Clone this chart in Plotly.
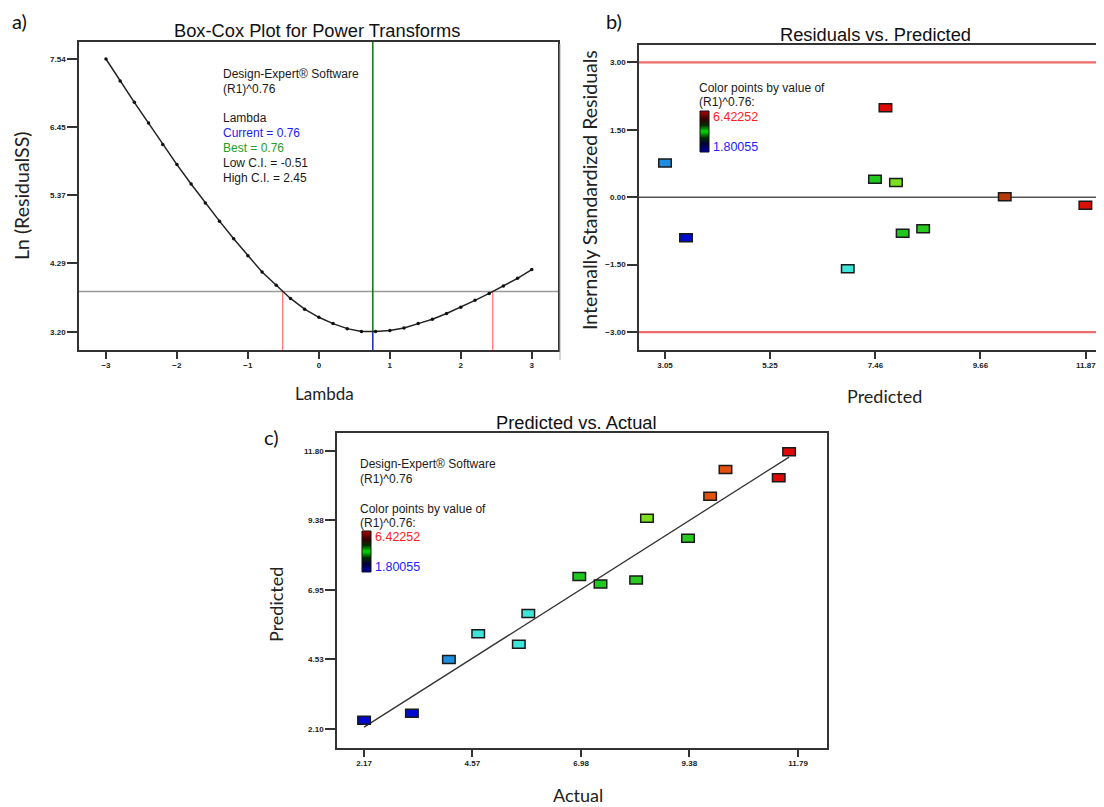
import plotly.graph_objects as go
from plotly.colors import sample_colorscale

W, H = 1104, 807
OFF = 8  # default page body margin
FW, FH = W - OFF, H - OFF

# ---------------- data ----------------
# a) Box-Cox
lam = [-3.0, -2.8, -2.6, -2.4, -2.2, -2.0, -1.8, -1.6, -1.4, -1.2, -1.0, -0.8, -0.6, -0.4, -0.2,
       0.0, 0.2, 0.4, 0.6, 0.8, 1.0, 1.2, 1.4, 1.6, 1.8, 2.0, 2.2, 2.4, 2.6, 2.8, 3.0]
ln_rss = [7.54, 7.19, 6.85, 6.52, 6.18, 5.86, 5.55, 5.25, 4.96, 4.68, 4.41, 4.15, 3.94, 3.73, 3.56,
          3.43, 3.33, 3.25, 3.205, 3.205, 3.22, 3.26, 3.33, 3.40, 3.49, 3.59, 3.70, 3.81, 3.93, 4.05, 4.19]
lam_current = 0.76
lam_best = 0.76
ci_low = -0.51
ci_high = 2.45
ci_level = 3.84
a_xticks = [-3, -2, -1, 0, 1, 2, 3]
a_yticks = [3.20, 4.29, 5.37, 6.45, 7.54]

# b) Residuals vs Predicted
pred_b = [3.05, 3.49, 6.88, 7.45, 7.89, 7.67, 8.03, 8.46, 10.17, 11.86]
resid_b = [0.76, -0.90, -1.59, 0.40, 0.33, 1.99, -0.80, -0.70, 0.01, -0.18]
color_b = [2.72, 1.95, 3.19, 3.88, 4.57, 6.40, 3.88, 3.95, 5.73, 6.30]
resid_limit = 3.0
b_xticks = [3.05, 5.25, 7.46, 9.66, 11.87]
b_yticks = [-3.00, -1.50, 0.00, 1.50, 3.00]

# c) Predicted vs Actual
actual_c = [2.17, 3.23, 4.05, 4.70, 5.60, 5.81, 6.94, 7.41, 8.20, 8.44, 9.35, 9.84, 10.18, 11.36, 11.59]
pred_c = [2.41, 2.65, 4.53, 5.43, 5.06, 6.13, 7.42, 7.16, 7.30, 9.46, 8.76, 10.22, 11.16, 10.87, 11.78]
color_c = [1.85, 1.95, 2.72, 3.19, 3.19, 3.19, 3.88, 3.88, 3.95, 4.57, 3.95, 5.27, 5.27, 6.40, 6.42]
c_xticks = [2.17, 4.57, 6.98, 9.38, 11.79]
c_yticks = [2.10, 4.53, 6.95, 9.38, 11.80]

cmin, cmax = 1.80055, 6.42252

# ---------------- styling ----------------
point_scale = [[0.0, '#0008c8'], [0.1, '#0010e0'], [0.2, '#1f8fe0'], [0.3, '#3fe4dc'],
               [0.45, '#1ec81e'], [0.6, '#7ee01e'], [0.75, '#e0520e'], [0.85, '#b83a08'],
               [1.0, '#e00808']]
bar_scale = [[0.0, '#0000a8'], [0.2, '#000038'], [0.35, '#003000'], [0.5, '#00e000'],
             [0.65, '#003000'], [0.8, '#380000'], [1.0, '#b00000']]

TXT = 'Liberation Sans'
TITLE_F = dict(family=TXT, size=18.3, color='#111')
AX_F = dict(family='Lato', size=18, color='#222')
ANN_F = dict(family=TXT, size=12, color='#1a1a1a')
TICK_F = dict(family=TXT, size=8, color='#222', weight='bold')


def px(x):
    return (x - OFF) / FW


def py(y):
    return 1 - (y - OFF) / FH


def colors_for(vals):
    return sample_colorscale(point_scale, [(v - cmin) / (cmax - cmin) for v in vals])


a_xr = [-3.38, 3.37]
a_yr = [2.91, 7.81]
b_xr = [2.505, 12.25]
b_yr = [-3.4, 3.4]
c_xr = [1.57, 12.43]
c_yr = [1.44, 12.43]

fig = go.Figure()

# a) curve
fig.add_trace(go.Scatter(x=lam, y=ln_rss, mode='lines+markers', xaxis='x', yaxis='y',
                         line=dict(color='#222', width=1.5),
                         marker=dict(color='#111', size=3.5), showlegend=False))
# b) points (hover layer)
fig.add_trace(go.Scatter(x=pred_b, y=resid_b, mode='markers', xaxis='x2', yaxis='y2',
                         marker=dict(color=colors_for(color_b), size=9, symbol='square', opacity=0),
                         showlegend=False))
# c) y=x line and points
line_ends = [min(actual_c), max(actual_c)]
fig.add_trace(go.Scatter(x=line_ends, y=line_ends, mode='lines', xaxis='x3', yaxis='y3',
                         line=dict(color='#333', width=1.3), showlegend=False))
fig.add_trace(go.Scatter(x=actual_c, y=pred_c, mode='markers', xaxis='x3', yaxis='y3',
                         marker=dict(color=colors_for(color_c), size=9, symbol='square', opacity=0),
                         showlegend=False))

shapes = []

# a) reference lines
shapes.append(dict(type='line', xref='x domain', yref='y', x0=0, x1=1, y0=ci_level, y1=ci_level,
                   line=dict(color='#9a9a9a', width=1.5), layer='below'))
for v in (ci_low, ci_high):
    shapes.append(dict(type='line', xref='x', yref='y', x0=v, x1=v, y0=a_yr[0], y1=ci_level,
                       line=dict(color='#ff7a7a', width=1.3), layer='below'))
shapes.append(dict(type='line', xref='x', yref='y', x0=lam_best, x1=lam_best, y0=min(ln_rss), y1=a_yr[1],
                   line=dict(color='#1a7a1a', width=1.6), layer='below'))
shapes.append(dict(type='line', xref='x', yref='y', x0=lam_current, x1=lam_current, y0=a_yr[0], y1=min(ln_rss),
                   line=dict(color='#2030c0', width=1.6), layer='below'))

# b) reference lines
for v in (resid_limit, -resid_limit):
    shapes.append(dict(type='line', xref='x2 domain', yref='y2', x0=0, x1=1, y0=v, y1=v,
                       line=dict(color='#f06a6a', width=2.2), layer='below'))
shapes.append(dict(type='line', xref='x2 domain', yref='y2', x0=0, x1=1, y0=0, y1=0,
                   line=dict(color='#555', width=1.5), layer='below'))
# faint crop line left of panel b
shapes.append(dict(type='line', xref='paper', yref='paper', x0=px(560), x1=px(560), y0=py(44), y1=py(360),
                   line=dict(color='#aaa', width=1)))


def rect_marks(xs, ys, cs, xref, yref, w=12.5, h=8):
    for x, y, c in zip(xs, ys, cs):
        shapes.append(dict(type='rect', xref=xref, yref=yref, xsizemode='pixel', ysizemode='pixel',
                           xanchor=x, yanchor=y, x0=-w / 2, x1=w / 2, y0=-h / 2, y1=h / 2,
                           fillcolor=c, line=dict(color='#1a1a1a', width=1.5)))


rect_marks(pred_b, resid_b, colors_for(color_b), 'x2', 'y2')
rect_marks(actual_c, pred_c, colors_for(color_c), 'x3', 'y3')


def grad_bar(x0, y0, x1, y1, n=30):
    step = (y1 - y0) / n
    cols = sample_colorscale(bar_scale, [1 - (i + 0.5) / n for i in range(n)])
    for i in range(n):
        shapes.append(dict(type='rect', xref='paper', yref='paper',
                           x0=px(x0), x1=px(x1), y0=py(y0 + i * step),
                           y1=py(min(y1, y0 + (i + 1) * step + 0.8)),
                           fillcolor=cols[i], line=dict(width=0)))
    shapes.append(dict(type='rect', xref='paper', yref='paper', x0=px(x0), x1=px(x1), y0=py(y0), y1=py(y1),
                       line=dict(color='#111', width=1)))


grad_bar(700, 111, 709, 152)
grad_bar(362, 531, 371, 572)

annotations = []


def txt(x, y, s, font, xanchor='left', angle=0):
    annotations.append(dict(xref='paper', yref='paper', x=px(x), y=py(y), text=s, showarrow=False,
                            xanchor=xanchor, yanchor='middle', font=font, textangle=angle))


# panel letters
LET_F = dict(family='Lato', size=20, color='#111')
txt(19, 21, 'a)', LET_F, 'center')
txt(614, 21, 'b)', LET_F, 'center')
txt(271, 437, 'c)', LET_F, 'center')

# titles
txt(317, 31, 'Box-Cox Plot for Power Transforms', TITLE_F, 'center')
txt(875, 34, 'Residuals vs. Predicted', TITLE_F, 'center')
txt(576, 423, 'Predicted vs. Actual', TITLE_F, 'center')

# axis titles
AX_V = dict(AX_F, size=19.5)
txt(21, 196, 'Ln (ResidualSS)', AX_V, 'center', -90)
txt(589, 190, 'Internally Standardized Residuals', AX_V, 'center', -90)
txt(324, 393, 'Lambda', dict(AX_F, size=17), 'center')
txt(884, 396, 'Predicted', AX_F, 'center')
txt(276, 605, 'Predicted', AX_F, 'center', -90)
txt(578, 795, 'Actual', AX_F, 'center')

# panel a text block
txt(221, 74, 'Design-Expert® Software', ANN_F)
txt(221, 89, '(R1)^0.76', ANN_F)
txt(221, 118, 'Lambda', ANN_F)
txt(221, 133, f'Current = {lam_current:.2f}', dict(ANN_F, color='#2222ee'))
txt(221, 148, f'Best = {lam_best:.2f}', dict(ANN_F, color='#22a022'))
txt(221, 163, f'Low C.I. = {ci_low:.2f}', ANN_F)
txt(221, 178, f'High C.I. = {ci_high:.2f}', ANN_F)

# panel b legend text
txt(697, 88, 'Color points by value of', ANN_F)
txt(697, 102, '(R1)^0.76:', ANN_F)
txt(711, 117, f'{cmax:.5f}', dict(ANN_F, color='#ff2020', size=12.5))
txt(711, 147, f'{cmin:.5f}', dict(ANN_F, color='#2222ff', size=12.5))

# panel c legend text
txt(358, 464, 'Design-Expert® Software', ANN_F)
txt(358, 479, '(R1)^0.76', ANN_F)
txt(358, 509, 'Color points by value of', ANN_F)
txt(358, 523, '(R1)^0.76:', ANN_F)
txt(373, 537, f'{cmax:.5f}', dict(ANN_F, color='#ff2020', size=12.5))
txt(373, 567, f'{cmin:.5f}', dict(ANN_F, color='#2222ff', size=12.5))


def axis(domain, rng, ticks, fmt, anchor, mirror=True, ticklen=7):
    return dict(domain=domain, range=rng, tickvals=ticks, tickformat=fmt, anchor=anchor,
                showgrid=False, zeroline=False, showline=True, mirror=mirror,
                linecolor='#333', linewidth=1.6, ticks='outside', ticklen=ticklen, tickwidth=1.5,
                tickcolor='#333', tickfont=TICK_F, fixedrange=True)


fig.update_layout(
    width=FW, height=FH, margin=dict(l=0, r=0, t=0, b=0),
    paper_bgcolor='white', plot_bgcolor='white', showlegend=False,
    xaxis=axis([px(79), px(558)], a_xr, a_xticks, 'd', 'y'),
    yaxis=axis([py(350), py(42)], a_yr, a_yticks, '.2f', 'x', ticklen=10),
    xaxis2=axis([px(639), 1.0], b_xr, b_xticks, '.2f', 'y2'),
    yaxis2=axis([py(350), py(44.5)], b_yr, b_yticks, '.2f', 'x2', mirror=False, ticklen=10),
    xaxis3=axis([px(337), px(827)], c_xr, c_xticks, '.2f', 'y3'),
    yaxis3=axis([py(748), py(433)], c_yr, c_yticks, '.2f', 'x3', ticklen=10),
    shapes=shapes, annotations=annotations,
)

fig.write_html('out.html')
